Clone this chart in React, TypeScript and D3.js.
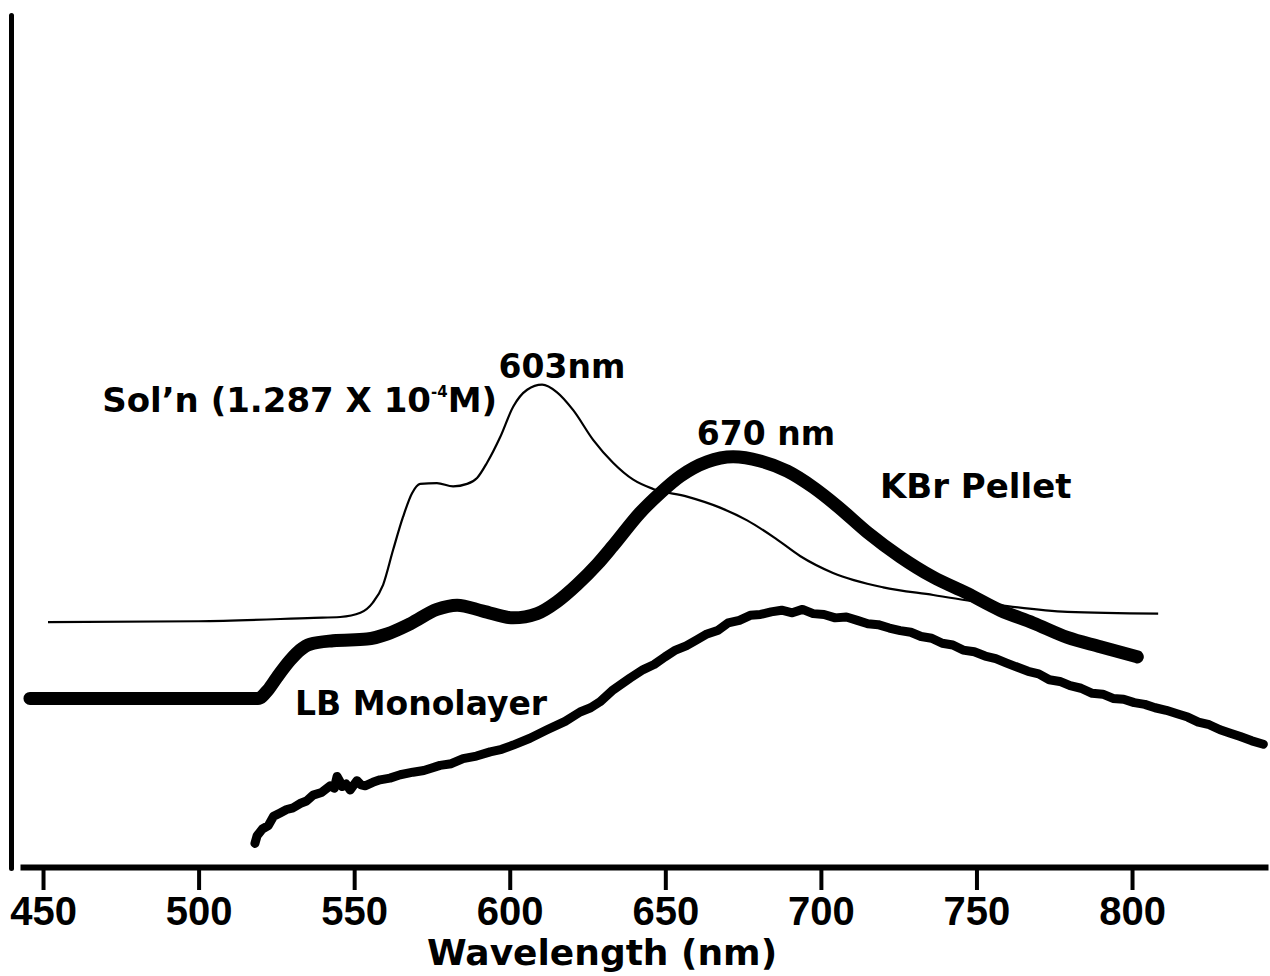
import React, { useEffect, useRef } from "react"
import * as d3 from "d3"

// Sol'n (1.287 X 10^-4 M) - thin trace
const solWl = [451.6, 500, 537, 545.5, 552, 556, 559.3, 562.5, 565.7, 568.6, 571.2, 576.6, 581.8, 586.3, 589.5, 592.7, 596.9, 601.1, 605.6, 610.4, 615.2, 620.4, 626.8, 633.2, 639.7, 646.1, 657, 667.6, 676.3, 685.3, 693.3, 703.9, 720, 736.1, 757.6, 779.2, 808.4]
const solAbs = [29.0, 29.1, 29.5, 29.6, 30.1, 31.3, 33.4, 37.5, 41.4, 44.2, 45.3, 45.4, 45.0, 45.3, 46.0, 47.8, 50.8, 54.4, 56.4, 57.0, 56.1, 54.0, 50.5, 47.8, 45.8, 44.7, 43.8, 42.5, 41.0, 38.9, 36.8, 34.8, 33.1, 32.2, 31.0, 30.2, 30.0]

// KBr pellet - heavy trace
const kbrWl = [445.8, 519.1, 522.3, 525.2, 529.4, 532.6, 535.8, 543.2, 554.1, 560.6, 568, 576.6, 583.1, 591.4, 601.1, 608.8, 615.2, 621.6, 628.1, 633.2, 641.9, 648.3, 654.8, 663.4, 671.8, 680.5, 689.2, 697.5, 705.2, 714.9, 725.5, 736.1, 747, 757.6, 768.2, 779.2, 789.8, 801.7]
const kbrAbs = [20.0, 20.0, 21.0, 22.5, 24.5, 25.7, 26.4, 26.8, 27.0, 27.6, 28.8, 30.5, 31.0, 30.3, 29.5, 30.0, 31.4, 33.4, 35.8, 38.0, 41.9, 44.2, 46.2, 47.9, 48.5, 48.0, 46.8, 44.9, 42.7, 39.6, 36.7, 34.3, 32.4, 30.4, 28.9, 27.2, 26.1, 24.9]

// LB monolayer - noisy trace
const lbWl = [518.1, 518.8, 520.5, 522.4, 524.1, 526.2, 528.3, 530.4, 532.6, 534.7, 536.8, 539.5, 542.3, 543.6, 544.5, 545.4, 546.1, 547.4, 548.7, 550.9, 552.2, 553.5, 556.0, 558.3, 561.5, 564.8, 568.9, 572.4, 577.6, 581.2, 585.0, 589.3, 593.7, 597.4, 601.1, 606.5, 612.0, 617.8, 622.6, 626.0, 629.0, 633.2, 638.7, 642.9, 646.4, 649.9, 653.3, 656.7, 660.1, 663.4, 666.8, 670.2, 673.8, 677.3, 680.6, 684.0, 687.4, 690.8, 694.1, 697.5, 701.0, 704.6, 708.2, 711.7, 715.1, 718.4, 722.0, 725.5, 728.9, 732.2, 735.6, 739.0, 742.4, 745.7, 749.3, 752.8, 756.2, 759.5, 763.0, 766.6, 770.0, 773.4, 776.8, 780.1, 783.6, 787.2, 790.6, 793.9, 797.3, 800.7, 804.1, 807.4, 811.0, 814.5, 817.9, 821.3, 824.8, 828.3, 831.6, 834.8, 838.5, 842.2]
const lbAbs = [2.9, 3.8, 4.6, 5.0, 6.1, 6.5, 6.9, 7.1, 7.6, 7.9, 8.6, 8.9, 9.7, 9.4, 10.8, 10.2, 9.6, 9.9, 9.2, 10.3, 9.8, 9.7, 10.1, 10.4, 10.6, 11.0, 11.3, 11.5, 12.1, 12.3, 12.9, 13.2, 13.7, 14.0, 14.5, 15.3, 16.3, 17.3, 18.4, 18.9, 19.6, 21.0, 22.4, 23.4, 24.0, 24.9, 25.7, 26.2, 26.9, 27.6, 28.0, 28.9, 29.2, 29.8, 29.9, 30.2, 30.4, 30.1, 30.5, 30.0, 29.9, 29.5, 29.6, 29.2, 28.8, 28.7, 28.3, 28.0, 27.8, 27.3, 27.1, 26.5, 26.3, 25.7, 25.5, 25.0, 24.7, 24.2, 23.7, 23.2, 22.9, 22.2, 22.0, 21.5, 21.2, 20.6, 20.5, 20.0, 19.9, 19.5, 19.3, 18.9, 18.6, 18.2, 17.8, 17.2, 16.9, 16.3, 15.9, 15.5, 15.0, 14.6]

const xTicks = [450, 500, 550, 600, 650, 700, 750, 800]

const W = 1270
const H = 976

export default function App() {
  const ref = useRef(null)

  useEffect(() => {
    const svg = d3.select(ref.current)
    svg.selectAll("*").remove()

    const x = d3.scaleLinear().domain([442.6, 843.7]).range([20, 1268])
    const y = d3.scaleLinear().domain([0, 100.6]).range([868, 15])

    // x axis
    const xAxis = svg.append("g")
      .attr("transform", "translate(0,867)")
      .call(d3.axisBottom(x).tickValues(xTicks).tickSize(23).tickSizeOuter(0).tickPadding(7).tickFormat(d3.format("d")))
    xAxis.select(".domain").attr("stroke", "#000").attr("stroke-width", 6)
    xAxis.selectAll(".tick line").attr("stroke", "#000").attr("stroke-width", 4)
    xAxis.selectAll(".tick text")
      .attr("fill", "#000")
      .style("font-family", "'Liberation Sans', Arial, sans-serif")
      .style("font-weight", "bold")
      .style("font-size", "40px")

    // y axis (no ticks)
    const yAxis = svg.append("g")
      .attr("transform", "translate(11,0)")
      .call(d3.axisLeft(y).tickValues([]).tickSizeOuter(0))
    yAxis.select(".domain").attr("stroke", "#000").attr("stroke-width", 5).attr("stroke-linecap", "round")

    const toPts = (wl, ab) => wl.map((w, i) => [w, ab[i]])

    const smooth = d3.line()
      .x(d => x(d[0]))
      .y(d => y(d[1]))
      .curve(d3.curveMonotoneX)

    const raw = d3.line()
      .x(d => x(d[0]))
      .y(d => y(d[1]))

    svg.append("path")
      .attr("d", raw(toPts(lbWl, lbAbs)))
      .attr("fill", "none")
      .attr("stroke", "#000")
      .attr("stroke-width", 9)
      .attr("stroke-linejoin", "round")
      .attr("stroke-linecap", "round")

    svg.append("path")
      .attr("d", smooth(toPts(solWl, solAbs)))
      .attr("fill", "none")
      .attr("stroke", "#000")
      .attr("stroke-width", 2.2)

    svg.append("path")
      .attr("d", smooth(toPts(kbrWl, kbrAbs)))
      .attr("fill", "none")
      .attr("stroke", "#000")
      .attr("stroke-width", 13)
      .attr("stroke-linecap", "round")
      .attr("stroke-linejoin", "round")

    const label = (tx, ty, str, anchor = "start", size = 34) =>
      svg.append("text")
        .attr("x", tx)
        .attr("y", ty)
        .attr("text-anchor", anchor)
        .style("font-family", "'DejaVu Sans', sans-serif")
        .style("font-weight", "bold")
        .style("font-size", size + "px")
        .text(str)

    const sol = label(497, 412, "Sol\u2019n (1.287 X 10", "end")
    sol.append("tspan").attr("dy", -15).style("font-size", "15px").text("-4")
    sol.append("tspan").attr("dy", 15).text("M)")

    label(562, 378, "603nm", "middle", 33)
    label(766, 445, "670 nm", "middle", 33)
    label(880, 498, "KBr Pellet", "start", 34)
    label(295, 715, "LB Monolayer", "start", 33)

    label(602, 965, "Wavelength (nm)", "middle", 36)
  }, [])

  return (
    <div style={{ position: "absolute", left: 0, top: 0 }}>
      <svg ref={ref} width={W} height={H} style={{ display: "block", background: "#fff" }} />
    </div>
  )
}
